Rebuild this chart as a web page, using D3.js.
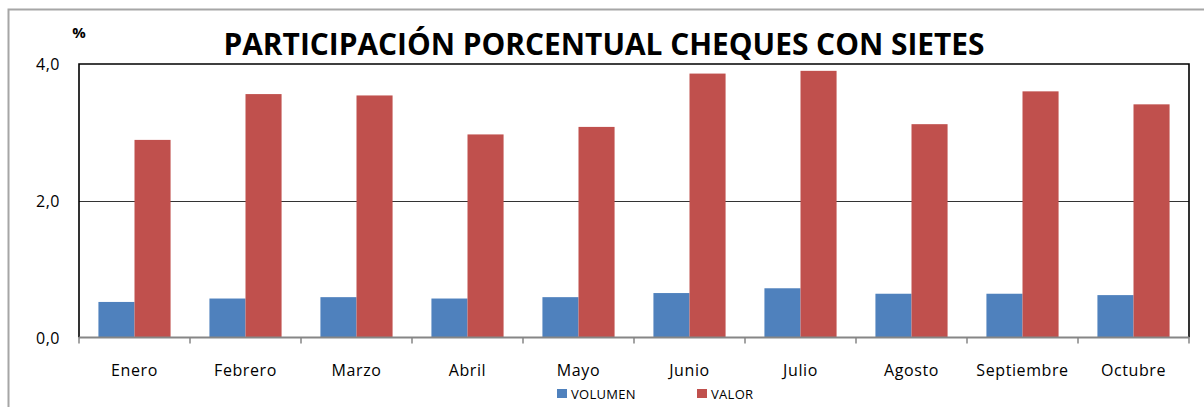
<!DOCTYPE html>
<html>
<head>
<meta charset="utf-8">
<script src="https://cdn.jsdelivr.net/npm/d3@7"></script>
<style>
  body { margin: 0; background: #fff; }
  text { font-family: "Open Sans", sans-serif; }
</style>
</head>
<body>
<script>
// Datos del gráfico
const meses = ["Enero", "Febrero", "Marzo", "Abril", "Mayo", "Junio", "Julio", "Agosto", "Septiembre", "Octubre"];
const volumen = [0.52, 0.57, 0.59, 0.57, 0.59, 0.65, 0.72, 0.64, 0.64, 0.62];
const valor = [2.89, 3.56, 3.54, 2.97, 3.08, 3.86, 3.90, 3.12, 3.60, 3.41];
const series = ["VOLUMEN", "VALOR"];
const colores = ["#4F81BD", "#C0504D"];
const ticksY = [0, 2, 4];

const width = 1204;
const height = 407;
const marginLeft = 79;
const marginRight = 15;
const marginTop = 64;
const plotBottom = 337.5;

const svg = d3.create("svg")
  .attr("width", width)
  .attr("height", height);

// Marco exterior
svg.append("rect")
  .attr("x", 8.5).attr("y", 9.5)
  .attr("width", width).attr("height", height)
  .attr("fill", "none")
  .attr("stroke", "#a6a6a6")
  .attr("stroke-width", 2);

const xScale = d3.scaleBand()
  .domain(meses)
  .range([marginLeft, width - marginRight])
  .paddingInner(0.35)
  .paddingOuter(0.175);

const xSub = d3.scaleBand()
  .domain(series)
  .range([0, xScale.bandwidth()]);

const yScale = d3.scaleLinear()
  .domain([0, 4])
  .range([plotBottom, marginTop]);

// Línea de cuadrícula
svg.append("g")
  .selectAll("line")
  .data(ticksY.filter(d => d > 0 && d < 4))
  .join("line")
  .attr("x1", marginLeft)
  .attr("x2", width - marginRight)
  .attr("y1", d => Math.round(yScale(d)) + 0.5)
  .attr("y2", d => Math.round(yScale(d)) + 0.5)
  .attr("stroke", "#333")
  .attr("stroke-width", 1);

// Barras
const datos = meses.map((m, i) => ({ mes: m, valores: [volumen[i], valor[i]] }));

svg.append("g")
  .selectAll("g")
  .data(datos)
  .join("g")
  .attr("transform", d => `translate(${xScale(d.mes)},0)`)
  .selectAll("rect")
  .data(d => d.valores.map((v, j) => ({ serie: series[j], v })))
  .join("rect")
  .attr("x", d => xSub(d.serie))
  .attr("y", d => yScale(d.v))
  .attr("width", xSub.bandwidth())
  .attr("height", d => yScale(0) - yScale(d.v))
  .attr("fill", (d, j) => colores[j]);

// Borde del área de trazado (arriba, izquierda, derecha)
svg.append("path")
  .attr("d", `M${marginLeft},${plotBottom} V${marginTop} H${width - marginRight} V${plotBottom}`)
  .attr("fill", "none")
  .attr("stroke", "#000")
  .attr("stroke-width", 1.6);

// Eje X
const step = xScale.step();
const bordes = d3.range(meses.length + 1).map(i => marginLeft + i * step);
const ejeX = svg.append("g");
ejeX.append("line")
  .attr("x1", marginLeft).attr("x2", width - marginRight)
  .attr("y1", plotBottom).attr("y2", plotBottom)
  .attr("stroke", "#868686").attr("stroke-width", 2);
ejeX.selectAll("line.tick")
  .data(bordes)
  .join("line")
  .attr("class", "tick")
  .attr("x1", d => d).attr("x2", d => d)
  .attr("y1", plotBottom).attr("y2", plotBottom + 6)
  .attr("stroke", "#868686").attr("stroke-width", 1.5);
ejeX.selectAll("text")
  .data(meses)
  .join("text")
  .attr("x", d => xScale(d) + xScale.bandwidth() / 2)
  .attr("y", 376)
  .attr("text-anchor", "middle")
  .attr("font-size", 16)
  .attr("letter-spacing", "0.6px")
  .attr("fill", "#000")
  .text(d => d);

// Eje Y
svg.append("g")
  .selectAll("text")
  .data(ticksY)
  .join("text")
  .attr("x", 60)
  .attr("y", d => yScale(d) + 6)
  .attr("text-anchor", "end")
  .attr("font-size", 16)
  .attr("letter-spacing", "0.5px")
  .attr("fill", "#000")
  .text(d => d3.format(".1f")(d).replace(".", ","));

svg.append("text")
  .attr("x", 79).attr("y", 38)
  .attr("text-anchor", "middle")
  .attr("font-size", 15)
  .attr("font-weight", "bold")
  .text("%");

// Título
svg.append("text")
  .attr("x", 604).attr("y", 55)
  .attr("text-anchor", "middle")
  .attr("font-size", 30)
  .attr("font-weight", "bold")
  .attr("textLength", 761)
  .attr("lengthAdjust", "spacingAndGlyphs")
  .text("PARTICIPACIÓN PORCENTUAL CHEQUES CON SIETES");

// Leyenda
const legendX = [557, 697];
const leyenda = svg.append("g")
  .selectAll("g")
  .data(series)
  .join("g")
  .attr("transform", (d, i) => `translate(${legendX[i]},389)`);
leyenda.append("rect")
  .attr("width", 10).attr("height", 9)
  .attr("fill", (d, i) => colores[i]);
leyenda.append("text")
  .attr("x", 14).attr("y", 10)
  .attr("font-size", 13)
  .attr("letter-spacing", "0.3px")
  .text(d => d);

document.body.appendChild(svg.node());
</script>
</body>
</html>
